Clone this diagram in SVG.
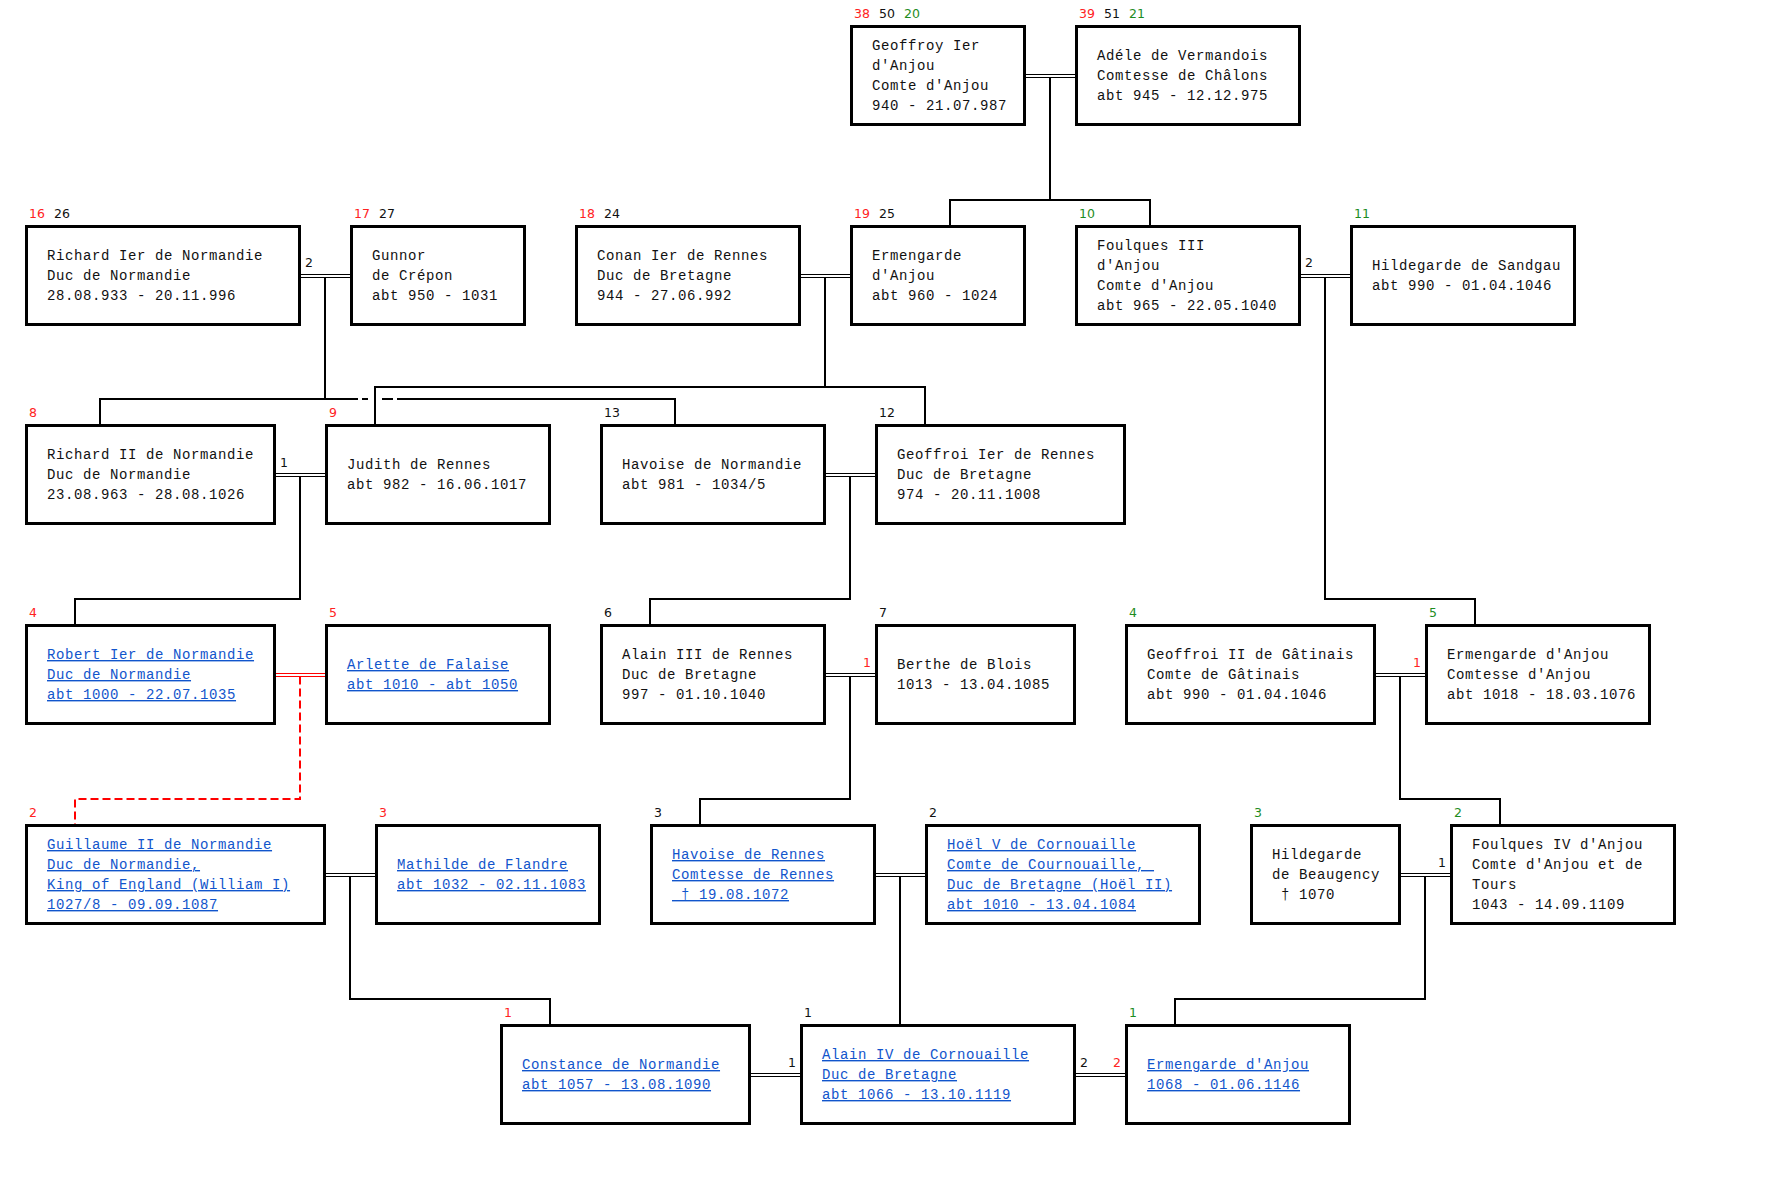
<svg xmlns="http://www.w3.org/2000/svg" width="1779" height="1200" viewBox="0 0 1779 1200">
<style>
.box{fill:#fff;stroke:#000;stroke-width:3}
.t{font-family:"Liberation Mono","Courier New",monospace;font-size:14px;letter-spacing:0.6px;fill:#111}
.lk{fill:#1155cc;text-decoration:underline}
.lb{font-family:"DejaVu Sans",Verdana,sans-serif;font-size:12.5px}
.r{fill:#f22}.g{fill:#1e8c1e}.k{fill:#111}
.c{stroke:#000;stroke-width:2;fill:none}
.m{stroke:#000;stroke-width:1;fill:none}
.mr{stroke:#f00;stroke-width:1;fill:none}
.cr{stroke:#f00;stroke-width:2;fill:none;stroke-dasharray:8 4}
</style>
<rect width="1779" height="1200" fill="#fff"/>

<g id="connectors">
  <!-- Geoffroy + Adele -->
  <path class="m" d="M1026 74.5H1075M1026 77.5H1075"/>
  <path class="c" d="M1050 77.5V200M950 225V200H1150V225"/>
  <!-- Richard Ier + Gunnor -->
  <path class="m" d="M301 274.5H350M301 277.5H350"/>
  <path class="c" d="M325 277.5V399M100 424V399H358M362 399H368M382 399H393M397 399H675V424"/>
  <!-- Conan + Ermengarde -->
  <path class="m" d="M801 274.5H850M801 277.5H850"/>
  <path class="c" d="M825 277.5V387M375 424V387H925V424"/>
  <!-- Foulques III + Hildegarde -->
  <path class="m" d="M1301 274.5H1350M1301 277.5H1350"/>
  <path class="c" d="M1325 277.5V599H1475V624"/>
  <!-- Richard II + Judith -->
  <path class="m" d="M276 473.5H325M276 476.5H325"/>
  <path class="c" d="M300 476.5V599H75V624"/>
  <!-- Havoise + Geoffroi -->
  <path class="m" d="M826 473.5H875M826 476.5H875"/>
  <path class="c" d="M850 476.5V599H650V624"/>
  <!-- Robert + Arlette -->
  <path class="mr" d="M276 673.5H325M276 676.5H325"/>
  <path class="cr" d="M300 676.5V799H75V824"/>
  <!-- Alain III + Berthe -->
  <path class="m" d="M826 673.5H875M826 676.5H875"/>
  <path class="c" d="M850 676.5V799H700V824"/>
  <!-- Geoffroi II + Ermengarde -->
  <path class="m" d="M1376 673.5H1425M1376 676.5H1425"/>
  <path class="c" d="M1400 676.5V799H1500V824"/>
  <!-- Guillaume + Mathilde -->
  <path class="m" d="M326 873.5H375M326 876.5H375"/>
  <path class="c" d="M350 876.5V999H550V1024"/>
  <!-- Havoise de Rennes + Hoel -->
  <path class="m" d="M876 873.5H925M876 876.5H925"/>
  <path class="c" d="M900 876.5V1024"/>
  <!-- Hildegarde + Foulques IV -->
  <path class="m" d="M1401 873.5H1450M1401 876.5H1450"/>
  <path class="c" d="M1425 876.5V999H1175V1024"/>
  <!-- Constance + Alain IV, Alain IV + Ermengarde -->
  <path class="m" d="M751 1073.5H800M751 1076.5H800M1076 1073.5H1125M1076 1076.5H1125"/>
  <!-- marriage numbers -->
  <text class="lb k" x="305" y="267">2</text>
  <text class="lb k" x="1305" y="267">2</text>
  <text class="lb k" x="280" y="466.5">1</text>
  <text class="lb r" x="871" y="666.5" text-anchor="end">1</text>
  <text class="lb r" x="1421" y="666.5" text-anchor="end">1</text>
  <text class="lb k" x="1446" y="866.5" text-anchor="end">1</text>
  <text class="lb k" x="796" y="1066.5" text-anchor="end">1</text>
  <text class="lb k" x="1080" y="1066.5">2</text>
  <text class="lb r" x="1121" y="1066.5" text-anchor="end">2</text>
</g>

<!-- Row 0 -->
<g id="geoffroy-ier">
  <rect class="box" x="851.5" y="26.5" width="173" height="98"/>
  <text class="lb r" x="854" y="18">38</text><text class="lb k" x="879" y="18">50</text><text class="lb g" x="904" y="18">20</text>
  <text class="t" x="872" y="50">Geoffroy Ier</text>
  <text class="t" x="872" y="70">d'Anjou</text>
  <text class="t" x="872" y="90">Comte d'Anjou</text>
  <text class="t" x="872" y="110">940 - 21.07.987</text>
</g>
<g id="adele">
  <rect class="box" x="1076.5" y="26.5" width="223" height="98"/>
  <text class="lb r" x="1079" y="18">39</text><text class="lb k" x="1104" y="18">51</text><text class="lb g" x="1129" y="18">21</text>
  <text class="t" x="1097" y="60">Adéle de Vermandois</text>
  <text class="t" x="1097" y="80">Comtesse de Châlons</text>
  <text class="t" x="1097" y="100">abt 945 - 12.12.975</text>
</g>

<!-- Row 1 -->
<g id="richard-ier">
  <rect class="box" x="26.5" y="226.5" width="273" height="98"/>
  <text class="lb r" x="29" y="218">16</text><text class="lb k" x="54" y="218">26</text>
  <text class="t" x="47" y="260">Richard Ier de Normandie</text>
  <text class="t" x="47" y="280">Duc de Normandie</text>
  <text class="t" x="47" y="300">28.08.933 - 20.11.996</text>
</g>
<g id="gunnor">
  <rect class="box" x="351.5" y="226.5" width="173" height="98"/>
  <text class="lb r" x="354" y="218">17</text><text class="lb k" x="379" y="218">27</text>
  <text class="t" x="372" y="260">Gunnor</text>
  <text class="t" x="372" y="280">de Crépon</text>
  <text class="t" x="372" y="300">abt 950 - 1031</text>
</g>
<g id="conan">
  <rect class="box" x="576.5" y="226.5" width="223" height="98"/>
  <text class="lb r" x="579" y="218">18</text><text class="lb k" x="604" y="218">24</text>
  <text class="t" x="597" y="260">Conan Ier de Rennes</text>
  <text class="t" x="597" y="280">Duc de Bretagne</text>
  <text class="t" x="597" y="300">944 - 27.06.992</text>
</g>
<g id="ermengarde-anjou-960">
  <rect class="box" x="851.5" y="226.5" width="173" height="98"/>
  <text class="lb r" x="854" y="218">19</text><text class="lb k" x="879" y="218">25</text>
  <text class="t" x="872" y="260">Ermengarde</text>
  <text class="t" x="872" y="280">d'Anjou</text>
  <text class="t" x="872" y="300">abt 960 - 1024</text>
</g>
<g id="foulques-iii">
  <rect class="box" x="1076.5" y="226.5" width="223" height="98"/>
  <text class="lb g" x="1079" y="218">10</text>
  <text class="t" x="1097" y="250">Foulques III</text>
  <text class="t" x="1097" y="270">d'Anjou</text>
  <text class="t" x="1097" y="290">Comte d'Anjou</text>
  <text class="t" x="1097" y="310">abt 965 - 22.05.1040</text>
</g>
<g id="hildegarde-sandgau">
  <rect class="box" x="1351.5" y="226.5" width="223" height="98"/>
  <text class="lb g" x="1354" y="218">11</text>
  <text class="t" x="1372" y="270">Hildegarde de Sandgau</text>
  <text class="t" x="1372" y="290">abt 990 - 01.04.1046</text>
</g>

<!-- Row 2 -->
<g id="richard-ii">
  <rect class="box" x="26.5" y="425.5" width="248" height="98"/>
  <text class="lb r" x="29" y="417">8</text>
  <text class="t" x="47" y="459">Richard II de Normandie</text>
  <text class="t" x="47" y="479">Duc de Normandie</text>
  <text class="t" x="47" y="499">23.08.963 - 28.08.1026</text>
</g>
<g id="judith">
  <rect class="box" x="326.5" y="425.5" width="223" height="98"/>
  <text class="lb r" x="329" y="417">9</text>
  <text class="t" x="347" y="469">Judith de Rennes</text>
  <text class="t" x="347" y="489">abt 982 - 16.06.1017</text>
</g>
<g id="havoise-normandie">
  <rect class="box" x="601.5" y="425.5" width="223" height="98"/>
  <text class="lb k" x="604" y="417">13</text>
  <text class="t" x="622" y="469">Havoise de Normandie</text>
  <text class="t" x="622" y="489">abt 981 - 1034/5</text>
</g>
<g id="geoffroi-ier-rennes">
  <rect class="box" x="876.5" y="425.5" width="248" height="98"/>
  <text class="lb k" x="879" y="417">12</text>
  <text class="t" x="897" y="459">Geoffroi Ier de Rennes</text>
  <text class="t" x="897" y="479">Duc de Bretagne</text>
  <text class="t" x="897" y="499">974 - 20.11.1008</text>
</g>

<!-- Row 3 -->
<g id="robert-ier">
  <rect class="box" x="26.5" y="625.5" width="248" height="98"/>
  <text class="lb r" x="29" y="617">4</text>
  <text class="t lk" x="47" y="659">Robert Ier de Normandie</text>
  <text class="t lk" x="47" y="679">Duc de Normandie</text>
  <text class="t lk" x="47" y="699">abt 1000 - 22.07.1035</text>
</g>
<g id="arlette">
  <rect class="box" x="326.5" y="625.5" width="223" height="98"/>
  <text class="lb r" x="329" y="617">5</text>
  <text class="t lk" x="347" y="669">Arlette de Falaise</text>
  <text class="t lk" x="347" y="689">abt 1010 - abt 1050</text>
</g>
<g id="alain-iii">
  <rect class="box" x="601.5" y="625.5" width="223" height="98"/>
  <text class="lb k" x="604" y="617">6</text>
  <text class="t" x="622" y="659">Alain III de Rennes</text>
  <text class="t" x="622" y="679">Duc de Bretagne</text>
  <text class="t" x="622" y="699">997 - 01.10.1040</text>
</g>
<g id="berthe">
  <rect class="box" x="876.5" y="625.5" width="198" height="98"/>
  <text class="lb k" x="879" y="617">7</text>
  <text class="t" x="897" y="669">Berthe de Blois</text>
  <text class="t" x="897" y="689">1013 - 13.04.1085</text>
</g>
<g id="geoffroi-ii">
  <rect class="box" x="1126.5" y="625.5" width="248" height="98"/>
  <text class="lb g" x="1129" y="617">4</text>
  <text class="t" x="1147" y="659">Geoffroi II de Gâtinais</text>
  <text class="t" x="1147" y="679">Comte de Gâtinais</text>
  <text class="t" x="1147" y="699">abt 990 - 01.04.1046</text>
</g>
<g id="ermengarde-anjou-1018">
  <rect class="box" x="1426.5" y="625.5" width="223" height="98"/>
  <text class="lb g" x="1429" y="617">5</text>
  <text class="t" x="1447" y="659">Ermengarde d'Anjou</text>
  <text class="t" x="1447" y="679">Comtesse d'Anjou</text>
  <text class="t" x="1447" y="699">abt 1018 - 18.03.1076</text>
</g>

<!-- Row 4 -->
<g id="guillaume">
  <rect class="box" x="26.5" y="825.5" width="298" height="98"/>
  <text class="lb r" x="29" y="817">2</text>
  <text class="t lk" x="47" y="849">Guillaume II de Normandie</text>
  <text class="t lk" x="47" y="869">Duc de Normandie,</text>
  <text class="t lk" x="47" y="889">King of England (William I)</text>
  <text class="t lk" x="47" y="909">1027/8 - 09.09.1087</text>
</g>
<g id="mathilde">
  <rect class="box" x="376.5" y="825.5" width="223" height="98"/>
  <text class="lb r" x="379" y="817">3</text>
  <text class="t lk" x="397" y="869">Mathilde de Flandre</text>
  <text class="t lk" x="397" y="889">abt 1032 - 02.11.1083</text>
</g>
<g id="havoise-rennes">
  <rect class="box" x="651.5" y="825.5" width="223" height="98"/>
  <text class="lb k" x="654" y="817">3</text>
  <text class="t lk" x="672" y="859">Havoise de Rennes</text>
  <text class="t lk" x="672" y="879">Comtesse de Rennes</text>
  <text class="t lk" x="672" y="899" xml:space="preserve"> † 19.08.1072</text>
</g>
<g id="hoel">
  <rect class="box" x="926.5" y="825.5" width="273" height="98"/>
  <text class="lb k" x="929" y="817">2</text>
  <text class="t lk" x="947" y="849">Hoël V de Cornouaille</text>
  <text class="t lk" x="947" y="869" xml:space="preserve">Comte de Cournouaille, </text>
  <text class="t lk" x="947" y="889">Duc de Bretagne (Hoël II)</text>
  <text class="t lk" x="947" y="909">abt 1010 - 13.04.1084</text>
</g>
<g id="hildegarde-beaugency">
  <rect class="box" x="1251.5" y="825.5" width="148" height="98"/>
  <text class="lb g" x="1254" y="817">3</text>
  <text class="t" x="1272" y="859">Hildegarde</text>
  <text class="t" x="1272" y="879">de Beaugency</text>
  <text class="t" x="1272" y="899" xml:space="preserve"> † 1070</text>
</g>
<g id="foulques-iv">
  <rect class="box" x="1451.5" y="825.5" width="223" height="98"/>
  <text class="lb g" x="1454" y="817">2</text>
  <text class="t" x="1472" y="849">Foulques IV d'Anjou</text>
  <text class="t" x="1472" y="869">Comte d'Anjou et de</text>
  <text class="t" x="1472" y="889">Tours</text>
  <text class="t" x="1472" y="909">1043 - 14.09.1109</text>
</g>

<!-- Row 5 -->
<g id="constance">
  <rect class="box" x="501.5" y="1025.5" width="248" height="98"/>
  <text class="lb r" x="504" y="1017">1</text>
  <text class="t lk" x="522" y="1069">Constance de Normandie</text>
  <text class="t lk" x="522" y="1089">abt 1057 - 13.08.1090</text>
</g>
<g id="alain-iv">
  <rect class="box" x="801.5" y="1025.5" width="273" height="98"/>
  <text class="lb k" x="804" y="1017">1</text>
  <text class="t lk" x="822" y="1059">Alain IV de Cornouaille</text>
  <text class="t lk" x="822" y="1079">Duc de Bretagne</text>
  <text class="t lk" x="822" y="1099">abt 1066 - 13.10.1119</text>
</g>
<g id="ermengarde-anjou-1068">
  <rect class="box" x="1126.5" y="1025.5" width="223" height="98"/>
  <text class="lb g" x="1129" y="1017">1</text>
  <text class="t lk" x="1147" y="1069">Ermengarde d'Anjou</text>
  <text class="t lk" x="1147" y="1089">1068 - 01.06.1146</text>
</g>
</svg>
